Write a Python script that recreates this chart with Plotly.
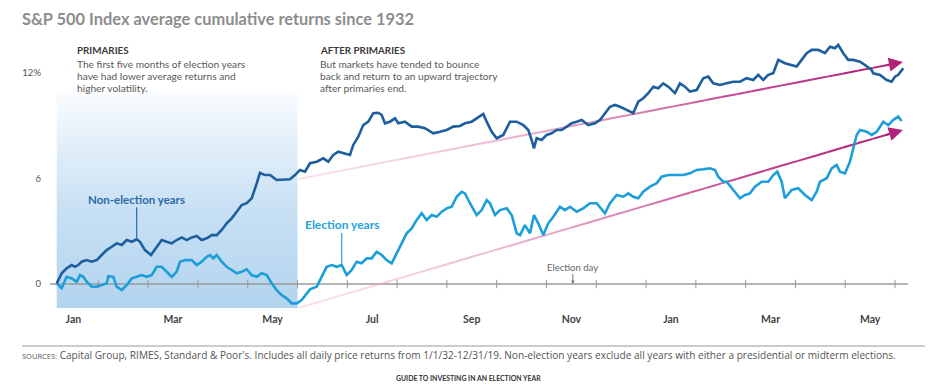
import plotly.graph_objects as go

# ---------------- data (x in months since Jan 1 of election year, y in %) ----------------
non_x = [0.165, 0.265, 0.365, 0.466, 0.532, 0.598, 0.667, 0.767, 0.867, 0.968, 1.068, 1.169, 1.269, 1.369,
         1.470, 1.570, 1.671, 1.771, 1.837, 1.938, 2.058, 2.173, 2.273, 2.373, 2.474, 2.574, 2.675, 2.775,
         2.876, 2.976, 3.076, 3.177, 3.277, 3.378, 3.478, 3.578, 3.679, 3.779, 3.880, 3.980, 4.080, 4.181,
         4.247, 4.347, 4.448, 4.582, 4.715, 4.849, 4.950, 5.050, 5.151, 5.251, 5.386, 5.518, 5.618, 5.719,
         5.819, 5.920, 6.054, 6.120, 6.221, 6.321, 6.422, 6.522, 6.622, 6.691, 6.757, 6.857, 6.958, 7.024,
         7.159, 7.293, 7.426, 7.560, 7.727, 7.861, 7.996, 8.129, 8.263, 8.363, 8.498, 8.598, 8.731, 8.799,
         8.900, 9.000, 9.133, 9.267, 9.402, 9.534, 9.635, 9.703, 9.749, 9.803, 9.904, 10.004, 10.104, 10.205,
         10.305, 10.406, 10.506, 10.606, 10.707, 10.839, 10.974, 11.074, 11.175, 11.275, 11.375, 11.476,
         11.610, 11.743, 11.843, 11.944, 12.044, 12.145, 12.245, 12.345, 12.446, 12.580, 12.681, 12.781,
         12.882, 13.016, 13.149, 13.249, 13.349, 13.484, 13.618, 13.751, 13.886, 14.020, 14.153, 14.253,
         14.353, 14.454, 14.554, 14.655, 14.789, 14.924, 15.024, 15.124, 15.225, 15.325, 15.458, 15.592,
         15.693, 15.793, 15.859, 15.960, 16.060, 16.161, 16.295, 16.396, 16.530, 16.562, 16.697, 16.831,
         16.932, 16.998, 17.064, 17.165]
non_y = [0.04, 0.61, 0.89, 1.08, 0.98, 1.08, 1.27, 1.36, 1.27, 1.36, 1.65, 1.93, 2.12, 2.31,
         2.22, 2.50, 2.40, 2.54, 2.40, 1.93, 1.65, 2.12, 2.50, 2.40, 2.31, 2.50, 2.65, 2.50,
         2.65, 2.73, 2.50, 2.60, 2.78, 2.78, 3.07, 3.45, 3.73, 4.11, 4.49, 4.59, 4.87, 5.72,
         6.32, 6.19, 6.19, 5.91, 5.95, 5.95, 6.19, 6.48, 6.38, 6.86, 6.95, 7.14, 6.95, 7.33,
         7.52, 7.43, 7.33, 7.90, 8.37, 9.03, 9.22, 9.70, 9.73, 9.60, 9.13, 9.22, 9.41, 9.13,
         9.22, 8.94, 8.94, 8.85, 8.56, 8.65, 8.75, 8.94, 8.98, 9.13, 9.22, 9.41, 9.66, 9.22,
         8.65, 8.28, 8.47, 9.22, 9.22, 9.03, 8.75, 8.18, 7.71, 8.28, 8.18, 8.47, 8.56, 8.75,
         8.75, 8.94, 9.13, 9.22, 9.32, 9.03, 9.13, 9.32, 9.70, 10.07, 10.17, 10.07,
         9.89, 9.70, 10.36, 10.55, 10.84, 11.21, 11.12, 11.40, 11.21, 10.84, 11.40, 11.21,
         10.93, 11.02, 11.69, 11.78, 11.40, 11.31, 11.40, 11.49, 11.49, 11.69, 11.59, 11.88,
         11.59, 11.88, 11.97, 12.73, 12.54, 12.44, 12.35, 12.73, 13.11, 13.30, 13.30, 13.11,
         13.48, 13.39, 13.58, 13.11, 12.73, 12.73, 12.63, 12.44, 12.16, 11.97, 11.88, 11.59,
         11.49, 11.78, 11.88, 12.26]

ele_x = [0.165, 0.265, 0.365, 0.466, 0.566, 0.633, 0.699, 0.767, 0.867, 0.968, 1.068, 1.169, 1.201, 1.301,
         1.369, 1.470, 1.570, 1.671, 1.771, 1.871, 1.972, 2.072, 2.173, 2.273, 2.373, 2.474, 2.574, 2.641,
         2.741, 2.876, 2.976, 3.076, 3.177, 3.243, 3.309, 3.378, 3.478, 3.578, 3.679, 3.779, 3.880, 3.980,
         4.080, 4.181, 4.281, 4.382, 4.482, 4.582, 4.683, 4.783, 4.884, 4.984, 5.084, 5.251, 5.386, 5.486,
         5.586, 5.687, 5.787, 5.888, 5.988, 6.088, 6.189, 6.289, 6.390, 6.490, 6.590, 6.691, 6.791, 6.892,
         6.992, 7.092, 7.193, 7.293, 7.394, 7.494, 7.594, 7.695, 7.795, 7.896, 7.996, 8.096, 8.197, 8.297,
         8.363, 8.464, 8.598, 8.699, 8.799, 8.865, 8.966, 9.066, 9.201, 9.301, 9.402, 9.468, 9.568, 9.669,
         9.749, 9.835, 9.936, 10.036, 10.137, 10.271, 10.371, 10.472, 10.606, 10.739, 10.873, 11.008,
         11.175, 11.275, 11.410, 11.542, 11.643, 11.743, 11.843, 11.944, 12.078, 12.213, 12.313, 12.446,
         12.546, 12.647, 12.747, 12.881, 13.016, 13.149, 13.283, 13.384, 13.450, 13.550, 13.618, 13.751,
         13.886, 13.986, 14.086, 14.187, 14.321, 14.454, 14.554, 14.635, 14.723, 14.789, 14.924, 15.056,
         15.191, 15.325, 15.426, 15.492, 15.627, 15.727, 15.827, 15.894, 15.994, 16.094, 16.161, 16.229,
         16.295, 16.430, 16.530, 16.631, 16.763, 16.864, 16.964, 17.064, 17.132]
ele_y = [0.04, -0.24, 0.41, 0.32, 0.13, 0.51, 0.41, 0.13, -0.15, -0.15, -0.06, 0.04, 0.45, 0.41,
         -0.15, -0.34, -0.06, 0.32, 0.41, 0.51, 0.41, 0.51, 0.98, 0.98, 0.70, 0.41, 0.70, 1.27,
         1.36, 1.36, 1.08, 1.27, 1.55, 1.65, 1.46, 1.65, 1.27, 0.98, 0.80, 0.61, 0.70, 0.84,
         0.51, 0.41, 0.61, 0.51, 0.04, -0.34, -0.63, -0.81, -1.10, -1.10, -0.91, -0.30, -0.15, 0.41,
         0.98, 1.08, 0.98, 1.08, 0.51, 0.80, 1.27, 1.18, 1.46, 1.46, 1.84, 1.65, 1.36, 1.18,
         1.74, 2.31, 2.88, 3.16, 3.64, 4.02, 3.64, 3.92, 3.82, 4.11, 4.30, 4.39, 4.96, 5.24,
         5.15, 4.59, 3.92, 4.20, 4.77, 4.59, 3.92, 4.20, 4.30, 3.92, 2.88, 2.78, 3.35, 2.88,
         3.92, 3.45, 2.78, 3.45, 3.82, 4.39, 4.20, 4.39, 4.11, 4.30, 4.59, 4.59,
         4.02, 4.59, 5.06, 4.96, 5.15, 4.96, 4.87, 5.24, 5.53, 5.72, 6.10, 6.19,
         6.19, 6.19, 6.19, 6.29, 6.48, 6.52, 6.57, 6.48, 6.10, 5.81, 5.81, 5.34,
         4.87, 5.06, 5.15, 5.53, 5.81, 5.81, 6.19, 6.38, 5.81, 4.87, 5.34, 5.44,
         5.06, 4.77, 5.24, 5.81, 6.01, 6.57, 6.76, 6.38, 6.29, 6.95, 7.71, 8.47,
         8.75, 8.65, 8.47, 8.65, 9.22, 9.03, 9.32, 9.51, 9.26]

month_labels = ["Jan", "Mar", "May", "Jul", "Sep", "Nov", "Jan", "Mar", "May"]
month_label_pos = [0.5, 2.5, 4.5, 6.5, 8.5, 10.5, 12.5, 14.5, 16.5]
month_starts = list(range(1, 18))
y_ticks = [0, 6, 12]
y_tick_text = ["0", "6", "12%"]

primaries_end = 5.0          # June 1
primaries_top = 11.0
election_day = 10.53

trend_upper = [(5.016, 5.97), (17.157, 12.61)]
trend_lower = [(5.016, -1.36), (17.157, 8.75)]

# ---------------- style / layout ----------------
X_RANGE = [0.03, 17.26]
Y_RANGE = [-1.36, 13.86]
DARK = "#1d5e9e"
LIGHT = "#1c9ed9"
MAGENTA = (178, 36, 124)
FONT = "Lato"

OFF = 8                      # page body margin offset
W, H = 937 - OFF, 387 - OFF
L, T = 50 - OFF, 40 - OFF    # plot area in figure px
R = W - (908 - OFF)
B = H - (308 - OFF)
PW, PH = W - L - R, H - T - B


def px(xp):   # page pixel -> paper x
    return (xp - OFF - L) / PW


def py(yp):   # page pixel -> paper y
    return (H - B - (yp - OFF)) / PH


fig = go.Figure()

# primaries shaded panel (vertical gradient)
fig.add_trace(go.Scatter(
    x=[non_x[0], primaries_end, primaries_end, non_x[0], non_x[0]],
    y=[Y_RANGE[0], Y_RANGE[0], primaries_top, primaries_top, Y_RANGE[0]],
    mode="none", fill="toself",
    fillgradient=dict(type="vertical",
                      colorscale=[[0, "#b2d4ef"], [0.45, "#c8e0f4"], [0.8, "#e6f1fa"], [1, "#fbfdff"]]),
    hoverinfo="skip", showlegend=False))

# zero line
fig.add_trace(go.Scatter(x=X_RANGE, y=[0, 0], mode="lines",
                         line=dict(color="#9a9a9a", width=1.4), hoverinfo="skip", showlegend=False))
# month ticks on zero line
fig.add_trace(go.Scatter(x=month_starts, y=[0] * len(month_starts), mode="markers",
                         marker=dict(symbol="line-ns", size=6, line=dict(color="#9a9a9a", width=1)),
                         hoverinfo="skip", showlegend=False))

# trend arrows with fading gradient
N = 40
for (x0, y0), (x1, y1) in (trend_upper, trend_lower):
    for i in range(N):
        t0, t1 = i / N, (i + 1) / N
        if i == N - 1:
            t1 = 0.985
        a = 0.06 + 0.94 * ((t0 + t1) / 2) ** 1.3
        r = int(245 + (MAGENTA[0] - 245) * min(1, a * 1.1))
        g = int(190 + (MAGENTA[1] - 190) * min(1, a * 1.1))
        b = int(215 + (MAGENTA[2] - 215) * min(1, a * 1.1))
        fig.add_trace(go.Scatter(
            x=[x0 + (x1 - x0) * t0, x0 + (x1 - x0) * t1],
            y=[y0 + (y1 - y0) * t0, y0 + (y1 - y0) * t1],
            mode="lines", line=dict(color=f"rgba({r},{g},{b},{min(1, 0.35 + a)})", width=2),
            hoverinfo="skip", showlegend=False))
    fig.add_annotation(x=x1, y=y1, ax=x0 + (x1 - x0) * 0.97, ay=y0 + (y1 - y0) * 0.97,
                       xref="x", yref="y", axref="x", ayref="y", text="", showarrow=True,
                       arrowhead=2, arrowsize=1.4, arrowwidth=2,
                       arrowcolor=f"rgb({MAGENTA[0]},{MAGENTA[1]},{MAGENTA[2]})")

# data lines
fig.add_trace(go.Scatter(x=ele_x, y=ele_y, mode="lines", line=dict(color=LIGHT, width=2.6),
                         name="Election years", showlegend=False))
fig.add_trace(go.Scatter(x=non_x, y=non_y, mode="lines", line=dict(color=DARK, width=2.6),
                         name="Non-election years", showlegend=False))

# series labels
fig.add_annotation(x=non_x[17], y=non_y[17], ax=0, ay=-40, text="Non-election years",
                   font=dict(family=FONT, size=11.5, color="#2a69a8", weight="bold"),
                   showarrow=True, arrowhead=0, arrowwidth=1.2, arrowcolor="#2a69a8", standoff=0)
fig.add_annotation(x=ele_x[59], y=ele_y[59], ax=0, ay=-41, text="Election years",
                   font=dict(family=FONT, size=12, color="#27a2dd", weight="bold"),
                   showarrow=True, arrowhead=0, arrowwidth=1.2, arrowcolor="#27a2dd", standoff=0)
fig.add_annotation(x=election_day, y=0, ax=0, ay=-17, text="Election day",
                   font=dict(family=FONT, size=9.5, color="#666666"),
                   showarrow=True, arrowhead=2, arrowsize=0.7, arrowwidth=1, arrowcolor="#777777",
                   standoff=0)

# text blocks
head_font = dict(family=FONT, size=9.8, color="#3a3a3a", weight="bold")
body_font = dict(family=FONT, size=10.2, color="#5a5a5a")
blocks = (
    (75, "PRIMARIES", ["The first five months of election years", "have had lower average returns and",
                       "higher volatility."]),
    (318, "AFTER PRIMARIES", ["But markets have tended to bounce", "back and return to an upward trajectory",
                              "after primaries end."]),
)
for xp_, head, lines in blocks:
    fig.add_annotation(x=px(xp_), y=py(50), xref="paper", yref="paper", text=head, font=head_font,
                       showarrow=False, xanchor="left", yanchor="middle")
    for k, line in enumerate(lines):
        fig.add_annotation(x=px(xp_), y=py(64 + 12 * k), xref="paper", yref="paper", text=line,
                           font=body_font, showarrow=False, xanchor="left", yanchor="middle")

# footer
fig.add_shape(type="line", xref="paper", yref="paper", x0=px(22), x1=px(925), y0=py(346), y1=py(346),
              line=dict(color="#cccccc", width=2))
fig.add_annotation(x=px(20), y=py(354.5), xref="paper", yref="paper", showarrow=False,
                   xanchor="left", yanchor="middle",
                   text="<span style='font-size:7.5px'>SOURCES:</span> Capital Group, RIMES, Standard &amp; Poor's. "
                        "Includes all daily price returns from 1/1/32-12/31/19. Non-election years exclude all "
                        "years with either a presidential or midterm elections.",
                   font=dict(family="Open Sans", size=10.1, color="#555555"))
fig.add_annotation(x=px(468), y=py(378), xref="paper", yref="paper", showarrow=False,
                   xanchor="center", yanchor="middle", text="GUIDE TO INVESTING IN AN ELECTION YEAR",
                   font=dict(family=FONT, size=6.9, color="#333333", weight="bold"))

fig.update_layout(
    width=W, height=H, margin=dict(l=L, r=R, t=T, b=B),
    paper_bgcolor="white", plot_bgcolor="white",
    title=dict(text="S&P 500 Index average cumulative returns since 1932",
               x=(22 - OFF) / W, y=1 - (19 - OFF) / H, xref="container", yref="container",
               xanchor="left", yanchor="middle",
               font=dict(family=FONT, size=16.4, color="#8d8d8d", weight="bold")),
    xaxis=dict(range=X_RANGE, showgrid=False, zeroline=False, showline=False,
               tickvals=month_label_pos, ticktext=month_labels, ticks="",
               tickfont=dict(family=FONT, size=10.5, color="#444444", weight="bold"),
               ticklabelstandoff=3),
    yaxis=dict(range=Y_RANGE, showgrid=False, zeroline=False, showline=False,
               tickvals=y_ticks, ticktext=y_tick_text, ticks="",
               tickfont=dict(family=FONT, size=9.5, color="#555555"), ticklabelstandoff=8),
    showlegend=False,
)

fig.write_html("out.html")
